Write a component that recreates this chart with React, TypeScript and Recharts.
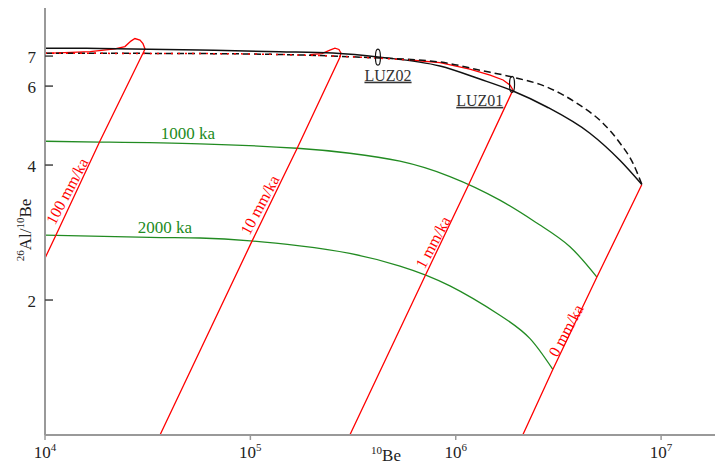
import React from 'react';
import { ComposedChart, Line, Scatter, XAxis, YAxis, ReferenceDot } from 'recharts';

const serif = "'Liberation Serif', 'Times New Roman', serif";

const beTicks = [1e4, 1e5, 1e6, 1e7];
const ratioTicks = [2, 4, 6, 7];

// black curves: constant exposure (solid) and steady erosion (dashed)
const exposureBe = [1.0e4, 1.85e4, 5.68e4, 1.39e5, 2.52e5, 4.28e5, 8.38e5, 1.31e6, 1.9e6, 2.78e6, 4.5e6, 6.3e6, 8.06e6];
const exposureRatio = [7.29, 7.28, 7.22, 7.16, 7.11, 6.96, 6.65, 6.22, 5.85, 5.39, 4.71, 4.1, 3.62];

const steadyBe = [1.0e4, 1.85e4, 5.68e4, 1.74e5, 3.42e5, 8.38e5, 1.31e6, 1.9e6, 2.78e6, 4.02e6, 5.21e6, 6.3e6, 7.29e6, 8.06e6];
const steadyRatio = [7.1, 7.1, 7.09, 7.04, 6.96, 6.79, 6.51, 6.28, 5.97, 5.44, 4.96, 4.48, 4.04, 3.62];

// red dotted steady-state erosion line
const erosionBe = [1.0e4, 5.68e4, 1.74e5, 3.42e5, 5.98e5];
const erosionRatio = [7.1, 7.09, 7.04, 6.96, 6.86];

// red burial paths per erosion rate
const e100Be = [1.0e4, 1.66e4, 2.19e4, 2.45e4, 2.62e4, 2.74e4, 2.9e4, 3.0e4, 3.07e4, 1.85e4, 1.13e4, 1.0e4];
const e100Ratio = [7.1, 7.16, 7.26, 7.35, 7.56, 7.66, 7.6, 7.46, 7.26, 4.52, 2.79, 2.48];

const e10Be = [1.95e5, 2.23e5, 2.44e5, 2.58e5, 2.7e5, 2.76e5, 2.73e5, 1.69e5, 1.02e5, 3.63e4];
const e10Ratio = [7.05, 7.09, 7.22, 7.29, 7.24, 7.11, 6.96, 4.36, 2.71, 1.0];

const e1Be = [5.98e5, 8.38e5, 1.17e6, 1.47e6, 1.7e6, 1.84e6, 1.9e6, 1.16e6, 7.08e5, 3.05e5];
const e1Ratio = [6.86, 6.77, 6.55, 6.35, 6.19, 6.03, 5.88, 3.63, 2.26, 1.0];

const e0Be = [8.06e6, 4.87e6, 2.97e6, 2.12e6];
const e0Ratio = [3.62, 2.25, 1.4, 1.0];

// green burial isochrons
const ka1000Be = [1.0e4, 1.85e4, 5.68e4, 1.69e5, 3.05e5, 5.35e5, 9.37e5, 1.64e6, 2.57e6, 3.6e6, 4.87e6];
const ka1000Ratio = [4.52, 4.5, 4.46, 4.36, 4.25, 4.08, 3.77, 3.34, 2.94, 2.63, 2.25];

const ka2000Be = [1.0e4, 3.25e4, 5.68e4, 1.0e5, 1.74e5, 3.05e5, 5.35e5, 9.37e5, 1.64e6, 2.3e6, 2.97e6];
const ka2000Ratio = [2.79, 2.76, 2.75, 2.71, 2.64, 2.54, 2.38, 2.15, 1.85, 1.64, 1.4];

// samples
const sampleNames = ['LUZ01', 'LUZ02'];
const sampleBe = [1.88e6, 4.18e5];
const sampleRatio = [6.05, 6.96];
const sampleLabelBe = [1.31e6, 4.68e5];
const sampleLabelRatio = [5.58, 6.35];

// curve labels
const curveLabels = ['1000 ka', '2000 ka', '100 mm/ka', '10 mm/ka', '1 mm/ka', '0 mm/ka'];
const curveLabelBe = [4.97e4, 3.84e4, 1.28e4, 1.11e5, 7.74e5, 3.44e6];
const curveLabelRatio = [4.71, 2.91, 3.5, 3.26, 2.69, 1.71];

const zip = (xs: number[], ys: number[]) => xs.map((be, i) => ({ be, r: ys[i] }));

const RED = '#ff0000';
const GREEN = '#228b22';

const BeTick = (props: any) => {
  const { x, y, payload } = props;
  const exp = Math.round(Math.log10(payload.value));
  return (
    <g>
      <line x1={x} y1={y} x2={x} y2={y + 5} stroke="#999" strokeWidth={1.5} />
      <text x={x} y={y + 23} textAnchor="middle" fontSize={17} fill="#222" fontFamily={serif}>
        10<tspan dy={-7} fontSize={11}>{exp}</tspan>
      </text>
    </g>
  );
};

const RatioTick = (props: any) => {
  const { x, y, payload } = props;
  return (
    <g>
      <line x1={x} y1={y} x2={x + 8} y2={y} stroke="#444" strokeWidth={1.5} />
      <text x={x - 9} y={y} dy="0.4em" textAnchor="end" fontSize={17} fill="#222" fontFamily={serif}>
        {payload.value}
      </text>
    </g>
  );
};

const Ellipse = (props: any) => (
  <ellipse cx={props.cx} cy={props.cy} rx={2.5} ry={8} fill="none" stroke="#111" strokeWidth={1.2} />
);

const makeLabel = (text: string, color: string, angle: number, size: number, underline = false) => (p: any) => (
  <text
    x={p.cx}
    y={p.cy}
    dy="0.35em"
    textAnchor="middle"
    fontSize={size}
    fill={color}
    fontFamily={serif}
    textDecoration={underline ? 'underline' : undefined}
    transform={angle ? `rotate(${angle} ${p.cx} ${p.cy})` : undefined}
  >
    {text}
  </text>
);

const YLabel = (props: any) => {
  const { viewBox } = props;
  const cx = viewBox.x + 31;
  const cy = viewBox.y + 222;
  return (
    <text x={cx} y={cy} textAnchor="middle" transform={`rotate(-90 ${cx} ${cy})`} fontSize={17} fill="#222" fontFamily={serif}>
      <tspan fontSize={11} dy={-7}>26</tspan>
      <tspan dy={7}>Al/</tspan>
      <tspan fontSize={11} dy={-7}>10</tspan>
      <tspan dy={7}>Be</tspan>
    </text>
  );
};

const XLabel = (props: any) => {
  const { viewBox } = props;
  const cx = viewBox.x + 341;
  const cy = viewBox.y + 26;
  return (
    <text x={cx} y={cy} textAnchor="middle" fontSize={17} fill="#222" fontFamily={serif}>
      <tspan fontSize={11} dy={-7}>10</tspan>
      <tspan dy={7}>Be</tspan>
    </text>
  );
};

const Title = (props: any) => {
  const { viewBox } = props;
  return (
    <text x={viewBox.x + viewBox.width - 4} y={viewBox.y + 17} textAnchor="end" fontSize={17} fill="#222" fontFamily={serif}>
      C) Lunzua Waterfalls
    </text>
  );
};

const curveColors = [GREEN, GREEN, RED, RED, RED, RED];
const curveAngles = [0, 0, -62, -62, -62, -62];
const curveSizes = [17, 17, 16, 16, 16, 16];

const App: React.FC = () => {
  const lineProps = { dataKey: 'r', dot: false, activeDot: false, isAnimationActive: false } as const;
  return (
    <div style={{ position: 'absolute', left: 0, top: 0, background: '#fff' }}>
      <ComposedChart width={715} height={466} margin={{ top: 8, right: 0, bottom: 0, left: 0 }}>
        <XAxis
          type="number"
          dataKey="be"
          scale="log"
          domain={[1e4, 1.83e7]}
          allowDataOverflow
          ticks={beTicks}
          interval={0}
          height={31}
          tickSize={0}
          tickMargin={0}
          tick={<BeTick />}
          axisLine={{ stroke: '#999', strokeWidth: 2 }}
          label={{ content: <XLabel /> }}
        />
        <XAxis
          xAxisId="top"
          orientation="top"
          type="number"
          dataKey="be"
          scale="log"
          domain={[1e4, 1.83e7]}
          allowDataOverflow
          height={0}
          tick={false}
          tickLine={false}
          axisLine={{ stroke: '#555', strokeWidth: 2 }}
          label={{ content: <Title /> }}
        />
        <YAxis
          type="number"
          dataKey="r"
          scale="log"
          domain={[1, 8.96]}
          allowDataOverflow
          ticks={ratioTicks}
          interval={0}
          width={45}
          tickSize={0}
          tickMargin={0}
          tick={<RatioTick />}
          axisLine={{ stroke: '#999', strokeWidth: 2 }}
          label={{ content: <YLabel /> }}
        />

        <Line {...lineProps} data={zip(ka1000Be, ka1000Ratio)} type="natural" stroke={GREEN} strokeWidth={1.3} />
        <Line {...lineProps} data={zip(ka2000Be, ka2000Ratio)} type="natural" stroke={GREEN} strokeWidth={1.3} />

        <Line {...lineProps} data={zip(e100Be, e100Ratio)} type="linear" stroke={RED} strokeWidth={1.3} />
        <Line {...lineProps} data={zip(e10Be, e10Ratio)} type="linear" stroke={RED} strokeWidth={1.3} />
        <Line {...lineProps} data={zip(e1Be, e1Ratio)} type="linear" stroke={RED} strokeWidth={1.3} />
        <Line {...lineProps} data={zip(e0Be, e0Ratio)} type="linear" stroke={RED} strokeWidth={1.3} />

        <Line {...lineProps} data={zip(exposureBe, exposureRatio)} type="monotone" stroke="#111" strokeWidth={1.5} />
        <Line {...lineProps} data={zip(steadyBe, steadyRatio)} type="monotone" stroke="#111" strokeWidth={1.5} strokeDasharray="7 4" />
        <Line {...lineProps} data={zip(erosionBe, erosionRatio)} type="monotone" stroke={RED} strokeWidth={1.5} strokeDasharray="2 5" />

        <Scatter data={zip(sampleBe, sampleRatio)} dataKey="r" shape={Ellipse} isAnimationActive={false} />

        {sampleNames.map((name, i) => (
          <ReferenceDot
            key={name}
            x={sampleLabelBe[i]}
            y={sampleLabelRatio[i]}
            r={0}
            shape={makeLabel(name, '#333', 0, 16, true)}
          />
        ))}
        {curveLabels.map((name, i) => (
          <ReferenceDot
            key={name}
            x={curveLabelBe[i]}
            y={curveLabelRatio[i]}
            r={0}
            shape={makeLabel(name, curveColors[i], curveAngles[i], curveSizes[i])}
          />
        ))}
      </ComposedChart>
    </div>
  );
};

export default App;
